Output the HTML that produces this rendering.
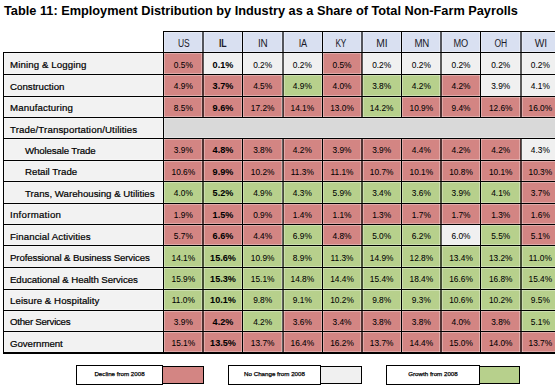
<!DOCTYPE html>
<html><head><meta charset="utf-8"><style>
html,body{margin:0;padding:0;background:#fff;width:560px;height:389px;overflow:hidden}
body{position:relative;font-family:"Liberation Sans",sans-serif;color:#111}
body>div{position:absolute}
.title{left:4px;top:3px;font-weight:bold;font-size:12.75px;white-space:nowrap;color:#000;line-height:15px}
.hd,.nm,.lb,.lg{white-space:nowrap;line-height:12px;height:12px}
.hd{text-align:center;font-size:10.0px;letter-spacing:-0.2px;color:#1a1a2a}
.hd.b{font-weight:bold}
.nm{text-align:center;font-size:8.34px;color:#000;-webkit-text-stroke:0.05px #000}
.nm.b{font-weight:bold;font-size:9.1px;-webkit-text-stroke:0.05px #111}
.lb{font-size:9.7px;padding-left:7px;box-sizing:border-box;color:#000;-webkit-text-stroke:0.2px #000}
.lb.ind{padding-left:22px}
.lg{text-align:center;font-size:6.2px;color:#000;-webkit-text-stroke:0.25px #000}
</style></head><body>
<div class="title">Table 11: Employment Distribution by Industry as a Share of Total Non-Farm Payrolls</div>
<div style="left:163.50px;top:31.00px;width:391.50px;height:21.00px;background:#d9e0f1"></div>
<div class="hd" style="left:164.00px;top:38.10px;width:39.67px;transform:scaleX(0.849)">US</div>
<div class="hd b" style="left:202.57px;top:38.10px;width:39.67px;transform:scaleX(0.879)">IL</div>
<div class="hd" style="left:243.19px;top:38.10px;width:39.67px;transform:scaleX(0.992)">IN</div>
<div class="hd" style="left:282.51px;top:38.10px;width:39.67px;transform:scaleX(0.920)">IA</div>
<div class="hd" style="left:320.83px;top:38.10px;width:39.67px;transform:scaleX(0.828)">KY</div>
<div class="hd" style="left:362.45px;top:38.10px;width:39.67px;transform:scaleX(1.030)">MI</div>
<div class="hd" style="left:401.62px;top:38.10px;width:39.67px;transform:scaleX(0.969)">MN</div>
<div class="hd" style="left:441.19px;top:38.10px;width:39.67px;transform:scaleX(0.920)">MO</div>
<div class="hd" style="left:480.91px;top:38.10px;width:39.67px;transform:scaleX(0.853)">OH</div>
<div class="hd" style="left:520.88px;top:38.10px;width:39.67px;transform:scaleX(1.020)">WI</div>
<div style="left:3.00px;top:52.00px;width:160.50px;height:22.00px;background:#f2f2f2"></div>
<div class="lb" style="left:3px;top:59.30px;width:160.50px;letter-spacing:0.100px">Mining &amp; Logging</div>
<div style="left:163.50px;top:52.00px;width:39.67px;height:22.00px;background:#d38583"></div>
<div class="nm" style="left:163.50px;top:58.70px;width:39.67px">0.5%</div>
<div style="left:203.17px;top:52.00px;width:39.67px;height:22.00px;background:#f0f0f0"></div>
<div class="nm b" style="left:203.17px;top:58.70px;width:39.67px">0.1%</div>
<div style="left:242.84px;top:52.00px;width:39.67px;height:22.00px;background:#f0f0f0"></div>
<div class="nm" style="left:242.84px;top:58.70px;width:39.67px">0.2%</div>
<div style="left:282.51px;top:52.00px;width:39.67px;height:22.00px;background:#f0f0f0"></div>
<div class="nm" style="left:282.51px;top:58.70px;width:39.67px">0.2%</div>
<div style="left:322.18px;top:52.00px;width:39.67px;height:22.00px;background:#d38583"></div>
<div class="nm" style="left:322.18px;top:58.70px;width:39.67px">0.5%</div>
<div style="left:361.85px;top:52.00px;width:39.67px;height:22.00px;background:#f0f0f0"></div>
<div class="nm" style="left:361.85px;top:58.70px;width:39.67px">0.2%</div>
<div style="left:401.52px;top:52.00px;width:39.67px;height:22.00px;background:#f0f0f0"></div>
<div class="nm" style="left:401.52px;top:58.70px;width:39.67px">0.2%</div>
<div style="left:441.19px;top:52.00px;width:39.67px;height:22.00px;background:#f0f0f0"></div>
<div class="nm" style="left:441.19px;top:58.70px;width:39.67px">0.2%</div>
<div style="left:480.86px;top:52.00px;width:39.67px;height:22.00px;background:#f0f0f0"></div>
<div class="nm" style="left:480.86px;top:58.70px;width:39.67px">0.2%</div>
<div style="left:520.53px;top:52.00px;width:34.47px;height:22.00px;background:#f0f0f0"></div>
<div class="nm" style="left:520.53px;top:58.70px;width:39.67px">0.2%</div>
<div style="left:3.00px;top:74.00px;width:160.50px;height:22.00px;background:#f2f2f2"></div>
<div class="lb" style="left:3px;top:80.73px;width:160.50px;letter-spacing:0.009px">Construction</div>
<div style="left:163.50px;top:74.00px;width:39.67px;height:22.00px;background:#d38583"></div>
<div class="nm" style="left:163.50px;top:80.13px;width:39.67px">4.9%</div>
<div style="left:203.17px;top:74.00px;width:39.67px;height:22.00px;background:#d38583"></div>
<div class="nm b" style="left:203.17px;top:80.13px;width:39.67px">3.7%</div>
<div style="left:242.84px;top:74.00px;width:39.67px;height:22.00px;background:#d38583"></div>
<div class="nm" style="left:242.84px;top:80.13px;width:39.67px">4.5%</div>
<div style="left:282.51px;top:74.00px;width:39.67px;height:22.00px;background:#b7d08c"></div>
<div class="nm" style="left:282.51px;top:80.13px;width:39.67px">4.9%</div>
<div style="left:322.18px;top:74.00px;width:39.67px;height:22.00px;background:#d38583"></div>
<div class="nm" style="left:322.18px;top:80.13px;width:39.67px">4.0%</div>
<div style="left:361.85px;top:74.00px;width:39.67px;height:22.00px;background:#b7d08c"></div>
<div class="nm" style="left:361.85px;top:80.13px;width:39.67px">3.8%</div>
<div style="left:401.52px;top:74.00px;width:39.67px;height:22.00px;background:#b7d08c"></div>
<div class="nm" style="left:401.52px;top:80.13px;width:39.67px">4.2%</div>
<div style="left:441.19px;top:74.00px;width:39.67px;height:22.00px;background:#d38583"></div>
<div class="nm" style="left:441.19px;top:80.13px;width:39.67px">4.2%</div>
<div style="left:480.86px;top:74.00px;width:39.67px;height:22.00px;background:#f0f0f0"></div>
<div class="nm" style="left:480.86px;top:80.13px;width:39.67px">3.9%</div>
<div style="left:520.53px;top:74.00px;width:34.47px;height:22.00px;background:#f0f0f0"></div>
<div class="nm" style="left:520.53px;top:80.13px;width:39.67px">4.1%</div>
<div style="left:3.00px;top:96.00px;width:160.50px;height:21.00px;background:#f2f2f2"></div>
<div class="lb" style="left:3px;top:102.16px;width:160.50px;letter-spacing:0.125px">Manufacturing</div>
<div style="left:163.50px;top:96.00px;width:39.67px;height:21.00px;background:#d38583"></div>
<div class="nm" style="left:163.50px;top:101.56px;width:39.67px">8.5%</div>
<div style="left:203.17px;top:96.00px;width:39.67px;height:21.00px;background:#d38583"></div>
<div class="nm b" style="left:203.17px;top:101.56px;width:39.67px">9.6%</div>
<div style="left:242.84px;top:96.00px;width:39.67px;height:21.00px;background:#d38583"></div>
<div class="nm" style="left:242.84px;top:101.56px;width:39.67px">17.2%</div>
<div style="left:282.51px;top:96.00px;width:39.67px;height:21.00px;background:#d38583"></div>
<div class="nm" style="left:282.51px;top:101.56px;width:39.67px">14.1%</div>
<div style="left:322.18px;top:96.00px;width:39.67px;height:21.00px;background:#d38583"></div>
<div class="nm" style="left:322.18px;top:101.56px;width:39.67px">13.0%</div>
<div style="left:361.85px;top:96.00px;width:39.67px;height:21.00px;background:#b7d08c"></div>
<div class="nm" style="left:361.85px;top:101.56px;width:39.67px">14.2%</div>
<div style="left:401.52px;top:96.00px;width:39.67px;height:21.00px;background:#d38583"></div>
<div class="nm" style="left:401.52px;top:101.56px;width:39.67px">10.9%</div>
<div style="left:441.19px;top:96.00px;width:39.67px;height:21.00px;background:#d38583"></div>
<div class="nm" style="left:441.19px;top:101.56px;width:39.67px">9.4%</div>
<div style="left:480.86px;top:96.00px;width:39.67px;height:21.00px;background:#d38583"></div>
<div class="nm" style="left:480.86px;top:101.56px;width:39.67px">12.6%</div>
<div style="left:520.53px;top:96.00px;width:34.47px;height:21.00px;background:#d38583"></div>
<div class="nm" style="left:520.53px;top:101.56px;width:39.67px">16.0%</div>
<div style="left:3.00px;top:117.00px;width:160.50px;height:21.00px;background:#f2f2f2"></div>
<div class="lb" style="left:3px;top:123.59px;width:160.50px;letter-spacing:0.121px">Trade/Transportation/Utilities</div>
<div style="left:163.50px;top:117.00px;width:391.50px;height:21.00px;background:#d9d9d9"></div>
<div style="left:3.00px;top:138.00px;width:160.50px;height:22.00px;background:#f2f2f2"></div>
<div class="lb ind" style="left:3px;top:145.02px;width:160.50px;letter-spacing:-0.143px">Wholesale Trade</div>
<div style="left:163.50px;top:138.00px;width:39.67px;height:22.00px;background:#d38583"></div>
<div class="nm" style="left:163.50px;top:144.42px;width:39.67px">3.9%</div>
<div style="left:203.17px;top:138.00px;width:39.67px;height:22.00px;background:#d38583"></div>
<div class="nm b" style="left:203.17px;top:144.42px;width:39.67px">4.8%</div>
<div style="left:242.84px;top:138.00px;width:39.67px;height:22.00px;background:#d38583"></div>
<div class="nm" style="left:242.84px;top:144.42px;width:39.67px">3.8%</div>
<div style="left:282.51px;top:138.00px;width:39.67px;height:22.00px;background:#d38583"></div>
<div class="nm" style="left:282.51px;top:144.42px;width:39.67px">4.2%</div>
<div style="left:322.18px;top:138.00px;width:39.67px;height:22.00px;background:#d38583"></div>
<div class="nm" style="left:322.18px;top:144.42px;width:39.67px">3.9%</div>
<div style="left:361.85px;top:138.00px;width:39.67px;height:22.00px;background:#d38583"></div>
<div class="nm" style="left:361.85px;top:144.42px;width:39.67px">3.9%</div>
<div style="left:401.52px;top:138.00px;width:39.67px;height:22.00px;background:#d38583"></div>
<div class="nm" style="left:401.52px;top:144.42px;width:39.67px">4.4%</div>
<div style="left:441.19px;top:138.00px;width:39.67px;height:22.00px;background:#d38583"></div>
<div class="nm" style="left:441.19px;top:144.42px;width:39.67px">4.2%</div>
<div style="left:480.86px;top:138.00px;width:39.67px;height:22.00px;background:#d38583"></div>
<div class="nm" style="left:480.86px;top:144.42px;width:39.67px">4.2%</div>
<div style="left:520.53px;top:138.00px;width:34.47px;height:22.00px;background:#f0f0f0"></div>
<div class="nm" style="left:520.53px;top:144.42px;width:39.67px">4.3%</div>
<div style="left:3.00px;top:160.00px;width:160.50px;height:21.00px;background:#f2f2f2"></div>
<div class="lb ind" style="left:3px;top:166.45px;width:160.50px;letter-spacing:0.000px">Retail Trade</div>
<div style="left:163.50px;top:160.00px;width:39.67px;height:21.00px;background:#d38583"></div>
<div class="nm" style="left:163.50px;top:165.85px;width:39.67px">10.6%</div>
<div style="left:203.17px;top:160.00px;width:39.67px;height:21.00px;background:#d38583"></div>
<div class="nm b" style="left:203.17px;top:165.85px;width:39.67px">9.9%</div>
<div style="left:242.84px;top:160.00px;width:39.67px;height:21.00px;background:#d38583"></div>
<div class="nm" style="left:242.84px;top:165.85px;width:39.67px">10.2%</div>
<div style="left:282.51px;top:160.00px;width:39.67px;height:21.00px;background:#d38583"></div>
<div class="nm" style="left:282.51px;top:165.85px;width:39.67px">11.3%</div>
<div style="left:322.18px;top:160.00px;width:39.67px;height:21.00px;background:#d38583"></div>
<div class="nm" style="left:322.18px;top:165.85px;width:39.67px">11.1%</div>
<div style="left:361.85px;top:160.00px;width:39.67px;height:21.00px;background:#d38583"></div>
<div class="nm" style="left:361.85px;top:165.85px;width:39.67px">10.7%</div>
<div style="left:401.52px;top:160.00px;width:39.67px;height:21.00px;background:#d38583"></div>
<div class="nm" style="left:401.52px;top:165.85px;width:39.67px">10.1%</div>
<div style="left:441.19px;top:160.00px;width:39.67px;height:21.00px;background:#d38583"></div>
<div class="nm" style="left:441.19px;top:165.85px;width:39.67px">10.8%</div>
<div style="left:480.86px;top:160.00px;width:39.67px;height:21.00px;background:#d38583"></div>
<div class="nm" style="left:480.86px;top:165.85px;width:39.67px">10.1%</div>
<div style="left:520.53px;top:160.00px;width:34.47px;height:21.00px;background:#d38583"></div>
<div class="nm" style="left:520.53px;top:165.85px;width:39.67px">10.3%</div>
<div style="left:3.00px;top:181.00px;width:160.50px;height:22.00px;background:#f2f2f2"></div>
<div class="lb ind" style="left:3px;top:187.88px;width:160.50px;letter-spacing:0.000px">Trans, Warehousing &amp; Utilities</div>
<div style="left:163.50px;top:181.00px;width:39.67px;height:22.00px;background:#b7d08c"></div>
<div class="nm" style="left:163.50px;top:187.28px;width:39.67px">4.0%</div>
<div style="left:203.17px;top:181.00px;width:39.67px;height:22.00px;background:#b7d08c"></div>
<div class="nm b" style="left:203.17px;top:187.28px;width:39.67px">5.2%</div>
<div style="left:242.84px;top:181.00px;width:39.67px;height:22.00px;background:#b7d08c"></div>
<div class="nm" style="left:242.84px;top:187.28px;width:39.67px">4.9%</div>
<div style="left:282.51px;top:181.00px;width:39.67px;height:22.00px;background:#b7d08c"></div>
<div class="nm" style="left:282.51px;top:187.28px;width:39.67px">4.3%</div>
<div style="left:322.18px;top:181.00px;width:39.67px;height:22.00px;background:#b7d08c"></div>
<div class="nm" style="left:322.18px;top:187.28px;width:39.67px">5.9%</div>
<div style="left:361.85px;top:181.00px;width:39.67px;height:22.00px;background:#b7d08c"></div>
<div class="nm" style="left:361.85px;top:187.28px;width:39.67px">3.4%</div>
<div style="left:401.52px;top:181.00px;width:39.67px;height:22.00px;background:#b7d08c"></div>
<div class="nm" style="left:401.52px;top:187.28px;width:39.67px">3.6%</div>
<div style="left:441.19px;top:181.00px;width:39.67px;height:22.00px;background:#b7d08c"></div>
<div class="nm" style="left:441.19px;top:187.28px;width:39.67px">3.9%</div>
<div style="left:480.86px;top:181.00px;width:39.67px;height:22.00px;background:#b7d08c"></div>
<div class="nm" style="left:480.86px;top:187.28px;width:39.67px">4.1%</div>
<div style="left:520.53px;top:181.00px;width:34.47px;height:22.00px;background:#d38583"></div>
<div class="nm" style="left:520.53px;top:187.28px;width:39.67px">3.7%</div>
<div style="left:3.00px;top:203.00px;width:160.50px;height:21.00px;background:#f2f2f2"></div>
<div class="lb" style="left:3px;top:209.31px;width:160.50px;letter-spacing:0.250px">Information</div>
<div style="left:163.50px;top:203.00px;width:39.67px;height:21.00px;background:#d38583"></div>
<div class="nm" style="left:163.50px;top:208.71px;width:39.67px">1.9%</div>
<div style="left:203.17px;top:203.00px;width:39.67px;height:21.00px;background:#d38583"></div>
<div class="nm b" style="left:203.17px;top:208.71px;width:39.67px">1.5%</div>
<div style="left:242.84px;top:203.00px;width:39.67px;height:21.00px;background:#d38583"></div>
<div class="nm" style="left:242.84px;top:208.71px;width:39.67px">0.9%</div>
<div style="left:282.51px;top:203.00px;width:39.67px;height:21.00px;background:#d38583"></div>
<div class="nm" style="left:282.51px;top:208.71px;width:39.67px">1.4%</div>
<div style="left:322.18px;top:203.00px;width:39.67px;height:21.00px;background:#d38583"></div>
<div class="nm" style="left:322.18px;top:208.71px;width:39.67px">1.1%</div>
<div style="left:361.85px;top:203.00px;width:39.67px;height:21.00px;background:#d38583"></div>
<div class="nm" style="left:361.85px;top:208.71px;width:39.67px">1.3%</div>
<div style="left:401.52px;top:203.00px;width:39.67px;height:21.00px;background:#d38583"></div>
<div class="nm" style="left:401.52px;top:208.71px;width:39.67px">1.7%</div>
<div style="left:441.19px;top:203.00px;width:39.67px;height:21.00px;background:#d38583"></div>
<div class="nm" style="left:441.19px;top:208.71px;width:39.67px">1.7%</div>
<div style="left:480.86px;top:203.00px;width:39.67px;height:21.00px;background:#d38583"></div>
<div class="nm" style="left:480.86px;top:208.71px;width:39.67px">1.3%</div>
<div style="left:520.53px;top:203.00px;width:34.47px;height:21.00px;background:#d38583"></div>
<div class="nm" style="left:520.53px;top:208.71px;width:39.67px">1.6%</div>
<div style="left:3.00px;top:224.00px;width:160.50px;height:21.00px;background:#f2f2f2"></div>
<div class="lb" style="left:3px;top:230.74px;width:160.50px;letter-spacing:0.079px">Financial Activities</div>
<div style="left:163.50px;top:224.00px;width:39.67px;height:21.00px;background:#d38583"></div>
<div class="nm" style="left:163.50px;top:230.14px;width:39.67px">5.7%</div>
<div style="left:203.17px;top:224.00px;width:39.67px;height:21.00px;background:#d38583"></div>
<div class="nm b" style="left:203.17px;top:230.14px;width:39.67px">6.6%</div>
<div style="left:242.84px;top:224.00px;width:39.67px;height:21.00px;background:#d38583"></div>
<div class="nm" style="left:242.84px;top:230.14px;width:39.67px">4.4%</div>
<div style="left:282.51px;top:224.00px;width:39.67px;height:21.00px;background:#b7d08c"></div>
<div class="nm" style="left:282.51px;top:230.14px;width:39.67px">6.9%</div>
<div style="left:322.18px;top:224.00px;width:39.67px;height:21.00px;background:#d38583"></div>
<div class="nm" style="left:322.18px;top:230.14px;width:39.67px">4.8%</div>
<div style="left:361.85px;top:224.00px;width:39.67px;height:21.00px;background:#b7d08c"></div>
<div class="nm" style="left:361.85px;top:230.14px;width:39.67px">5.0%</div>
<div style="left:401.52px;top:224.00px;width:39.67px;height:21.00px;background:#b7d08c"></div>
<div class="nm" style="left:401.52px;top:230.14px;width:39.67px">6.2%</div>
<div style="left:441.19px;top:224.00px;width:39.67px;height:21.00px;background:#f0f0f0"></div>
<div class="nm" style="left:441.19px;top:230.14px;width:39.67px">6.0%</div>
<div style="left:480.86px;top:224.00px;width:39.67px;height:21.00px;background:#b7d08c"></div>
<div class="nm" style="left:480.86px;top:230.14px;width:39.67px">5.5%</div>
<div style="left:520.53px;top:224.00px;width:34.47px;height:21.00px;background:#d38583"></div>
<div class="nm" style="left:520.53px;top:230.14px;width:39.67px">5.1%</div>
<div style="left:3.00px;top:245.00px;width:160.50px;height:22.00px;background:#f2f2f2"></div>
<div class="lb" style="left:3px;top:252.17px;width:160.50px;letter-spacing:-0.145px">Professional &amp; Business Services</div>
<div style="left:163.50px;top:245.00px;width:39.67px;height:22.00px;background:#b7d08c"></div>
<div class="nm" style="left:163.50px;top:251.57px;width:39.67px">14.1%</div>
<div style="left:203.17px;top:245.00px;width:39.67px;height:22.00px;background:#b7d08c"></div>
<div class="nm b" style="left:203.17px;top:251.57px;width:39.67px">15.6%</div>
<div style="left:242.84px;top:245.00px;width:39.67px;height:22.00px;background:#b7d08c"></div>
<div class="nm" style="left:242.84px;top:251.57px;width:39.67px">10.9%</div>
<div style="left:282.51px;top:245.00px;width:39.67px;height:22.00px;background:#b7d08c"></div>
<div class="nm" style="left:282.51px;top:251.57px;width:39.67px">8.9%</div>
<div style="left:322.18px;top:245.00px;width:39.67px;height:22.00px;background:#b7d08c"></div>
<div class="nm" style="left:322.18px;top:251.57px;width:39.67px">11.3%</div>
<div style="left:361.85px;top:245.00px;width:39.67px;height:22.00px;background:#b7d08c"></div>
<div class="nm" style="left:361.85px;top:251.57px;width:39.67px">14.9%</div>
<div style="left:401.52px;top:245.00px;width:39.67px;height:22.00px;background:#b7d08c"></div>
<div class="nm" style="left:401.52px;top:251.57px;width:39.67px">12.8%</div>
<div style="left:441.19px;top:245.00px;width:39.67px;height:22.00px;background:#b7d08c"></div>
<div class="nm" style="left:441.19px;top:251.57px;width:39.67px">13.4%</div>
<div style="left:480.86px;top:245.00px;width:39.67px;height:22.00px;background:#b7d08c"></div>
<div class="nm" style="left:480.86px;top:251.57px;width:39.67px">13.2%</div>
<div style="left:520.53px;top:245.00px;width:34.47px;height:22.00px;background:#b7d08c"></div>
<div class="nm" style="left:520.53px;top:251.57px;width:39.67px">11.0%</div>
<div style="left:3.00px;top:267.00px;width:160.50px;height:22.00px;background:#f2f2f2"></div>
<div class="lb" style="left:3px;top:273.60px;width:160.50px;letter-spacing:-0.089px">Educational &amp; Health Services</div>
<div style="left:163.50px;top:267.00px;width:39.67px;height:22.00px;background:#b7d08c"></div>
<div class="nm" style="left:163.50px;top:273.00px;width:39.67px">15.9%</div>
<div style="left:203.17px;top:267.00px;width:39.67px;height:22.00px;background:#b7d08c"></div>
<div class="nm b" style="left:203.17px;top:273.00px;width:39.67px">15.3%</div>
<div style="left:242.84px;top:267.00px;width:39.67px;height:22.00px;background:#b7d08c"></div>
<div class="nm" style="left:242.84px;top:273.00px;width:39.67px">15.1%</div>
<div style="left:282.51px;top:267.00px;width:39.67px;height:22.00px;background:#b7d08c"></div>
<div class="nm" style="left:282.51px;top:273.00px;width:39.67px">14.8%</div>
<div style="left:322.18px;top:267.00px;width:39.67px;height:22.00px;background:#b7d08c"></div>
<div class="nm" style="left:322.18px;top:273.00px;width:39.67px">14.4%</div>
<div style="left:361.85px;top:267.00px;width:39.67px;height:22.00px;background:#b7d08c"></div>
<div class="nm" style="left:361.85px;top:273.00px;width:39.67px">15.4%</div>
<div style="left:401.52px;top:267.00px;width:39.67px;height:22.00px;background:#b7d08c"></div>
<div class="nm" style="left:401.52px;top:273.00px;width:39.67px">18.4%</div>
<div style="left:441.19px;top:267.00px;width:39.67px;height:22.00px;background:#b7d08c"></div>
<div class="nm" style="left:441.19px;top:273.00px;width:39.67px">16.6%</div>
<div style="left:480.86px;top:267.00px;width:39.67px;height:22.00px;background:#b7d08c"></div>
<div class="nm" style="left:480.86px;top:273.00px;width:39.67px">16.8%</div>
<div style="left:520.53px;top:267.00px;width:34.47px;height:22.00px;background:#b7d08c"></div>
<div class="nm" style="left:520.53px;top:273.00px;width:39.67px">15.4%</div>
<div style="left:3.00px;top:289.00px;width:160.50px;height:21.00px;background:#f2f2f2"></div>
<div class="lb" style="left:3px;top:295.03px;width:160.50px;letter-spacing:0.050px">Leisure &amp; Hospitality</div>
<div style="left:163.50px;top:289.00px;width:39.67px;height:21.00px;background:#b7d08c"></div>
<div class="nm" style="left:163.50px;top:294.43px;width:39.67px">11.0%</div>
<div style="left:203.17px;top:289.00px;width:39.67px;height:21.00px;background:#b7d08c"></div>
<div class="nm b" style="left:203.17px;top:294.43px;width:39.67px">10.1%</div>
<div style="left:242.84px;top:289.00px;width:39.67px;height:21.00px;background:#b7d08c"></div>
<div class="nm" style="left:242.84px;top:294.43px;width:39.67px">9.8%</div>
<div style="left:282.51px;top:289.00px;width:39.67px;height:21.00px;background:#b7d08c"></div>
<div class="nm" style="left:282.51px;top:294.43px;width:39.67px">9.1%</div>
<div style="left:322.18px;top:289.00px;width:39.67px;height:21.00px;background:#b7d08c"></div>
<div class="nm" style="left:322.18px;top:294.43px;width:39.67px">10.2%</div>
<div style="left:361.85px;top:289.00px;width:39.67px;height:21.00px;background:#b7d08c"></div>
<div class="nm" style="left:361.85px;top:294.43px;width:39.67px">9.8%</div>
<div style="left:401.52px;top:289.00px;width:39.67px;height:21.00px;background:#b7d08c"></div>
<div class="nm" style="left:401.52px;top:294.43px;width:39.67px">9.3%</div>
<div style="left:441.19px;top:289.00px;width:39.67px;height:21.00px;background:#b7d08c"></div>
<div class="nm" style="left:441.19px;top:294.43px;width:39.67px">10.6%</div>
<div style="left:480.86px;top:289.00px;width:39.67px;height:21.00px;background:#b7d08c"></div>
<div class="nm" style="left:480.86px;top:294.43px;width:39.67px">10.2%</div>
<div style="left:520.53px;top:289.00px;width:34.47px;height:21.00px;background:#b7d08c"></div>
<div class="nm" style="left:520.53px;top:294.43px;width:39.67px">9.5%</div>
<div style="left:3.00px;top:310.00px;width:160.50px;height:21.00px;background:#f2f2f2"></div>
<div class="lb" style="left:3px;top:316.46px;width:160.50px;letter-spacing:-0.269px">Other Services</div>
<div style="left:163.50px;top:310.00px;width:39.67px;height:21.00px;background:#d38583"></div>
<div class="nm" style="left:163.50px;top:315.86px;width:39.67px">3.9%</div>
<div style="left:203.17px;top:310.00px;width:39.67px;height:21.00px;background:#d38583"></div>
<div class="nm b" style="left:203.17px;top:315.86px;width:39.67px">4.2%</div>
<div style="left:242.84px;top:310.00px;width:39.67px;height:21.00px;background:#b7d08c"></div>
<div class="nm" style="left:242.84px;top:315.86px;width:39.67px">4.2%</div>
<div style="left:282.51px;top:310.00px;width:39.67px;height:21.00px;background:#d38583"></div>
<div class="nm" style="left:282.51px;top:315.86px;width:39.67px">3.6%</div>
<div style="left:322.18px;top:310.00px;width:39.67px;height:21.00px;background:#d38583"></div>
<div class="nm" style="left:322.18px;top:315.86px;width:39.67px">3.4%</div>
<div style="left:361.85px;top:310.00px;width:39.67px;height:21.00px;background:#d38583"></div>
<div class="nm" style="left:361.85px;top:315.86px;width:39.67px">3.8%</div>
<div style="left:401.52px;top:310.00px;width:39.67px;height:21.00px;background:#d38583"></div>
<div class="nm" style="left:401.52px;top:315.86px;width:39.67px">3.8%</div>
<div style="left:441.19px;top:310.00px;width:39.67px;height:21.00px;background:#d38583"></div>
<div class="nm" style="left:441.19px;top:315.86px;width:39.67px">4.0%</div>
<div style="left:480.86px;top:310.00px;width:39.67px;height:21.00px;background:#d38583"></div>
<div class="nm" style="left:480.86px;top:315.86px;width:39.67px">3.8%</div>
<div style="left:520.53px;top:310.00px;width:34.47px;height:21.00px;background:#b7d08c"></div>
<div class="nm" style="left:520.53px;top:315.86px;width:39.67px">5.1%</div>
<div style="left:3.00px;top:331.00px;width:160.50px;height:21.00px;background:#f2f2f2"></div>
<div class="lb" style="left:3px;top:337.89px;width:160.50px;letter-spacing:-0.056px">Government</div>
<div style="left:163.50px;top:331.00px;width:39.67px;height:21.00px;background:#d38583"></div>
<div class="nm" style="left:163.50px;top:337.29px;width:39.67px">15.1%</div>
<div style="left:203.17px;top:331.00px;width:39.67px;height:21.00px;background:#d38583"></div>
<div class="nm b" style="left:203.17px;top:337.29px;width:39.67px">13.5%</div>
<div style="left:242.84px;top:331.00px;width:39.67px;height:21.00px;background:#d38583"></div>
<div class="nm" style="left:242.84px;top:337.29px;width:39.67px">13.7%</div>
<div style="left:282.51px;top:331.00px;width:39.67px;height:21.00px;background:#d38583"></div>
<div class="nm" style="left:282.51px;top:337.29px;width:39.67px">16.4%</div>
<div style="left:322.18px;top:331.00px;width:39.67px;height:21.00px;background:#d38583"></div>
<div class="nm" style="left:322.18px;top:337.29px;width:39.67px">16.2%</div>
<div style="left:361.85px;top:331.00px;width:39.67px;height:21.00px;background:#d38583"></div>
<div class="nm" style="left:361.85px;top:337.29px;width:39.67px">13.7%</div>
<div style="left:401.52px;top:331.00px;width:39.67px;height:21.00px;background:#d38583"></div>
<div class="nm" style="left:401.52px;top:337.29px;width:39.67px">14.4%</div>
<div style="left:441.19px;top:331.00px;width:39.67px;height:21.00px;background:#d38583"></div>
<div class="nm" style="left:441.19px;top:337.29px;width:39.67px">15.0%</div>
<div style="left:480.86px;top:331.00px;width:39.67px;height:21.00px;background:#d38583"></div>
<div class="nm" style="left:480.86px;top:337.29px;width:39.67px">14.0%</div>
<div style="left:520.53px;top:331.00px;width:34.47px;height:21.00px;background:#d38583"></div>
<div class="nm" style="left:520.53px;top:337.29px;width:39.67px">13.7%</div>
<div style="left:163px;top:32px;width:392px;height:1px;background:rgba(255,255,255,0.3)"></div>
<div style="left:3px;top:51px;width:552px;height:1px;background:rgba(255,255,255,0.3)"></div>
<div style="left:3px;top:53px;width:552px;height:1px;background:rgba(255,255,255,0.3)"></div>
<div style="left:3px;top:73px;width:552px;height:1px;background:rgba(255,255,255,0.3)"></div>
<div style="left:3px;top:75px;width:552px;height:1px;background:rgba(255,255,255,0.3)"></div>
<div style="left:3px;top:95px;width:552px;height:1px;background:rgba(255,255,255,0.3)"></div>
<div style="left:3px;top:97px;width:552px;height:1px;background:rgba(255,255,255,0.3)"></div>
<div style="left:3px;top:116px;width:552px;height:1px;background:rgba(255,255,255,0.3)"></div>
<div style="left:3px;top:118px;width:552px;height:1px;background:rgba(255,255,255,0.3)"></div>
<div style="left:3px;top:137px;width:552px;height:1px;background:rgba(255,255,255,0.3)"></div>
<div style="left:3px;top:139px;width:552px;height:1px;background:rgba(255,255,255,0.3)"></div>
<div style="left:3px;top:159px;width:552px;height:1px;background:rgba(255,255,255,0.3)"></div>
<div style="left:3px;top:161px;width:552px;height:1px;background:rgba(255,255,255,0.3)"></div>
<div style="left:3px;top:180px;width:552px;height:1px;background:rgba(255,255,255,0.3)"></div>
<div style="left:3px;top:182px;width:552px;height:1px;background:rgba(255,255,255,0.3)"></div>
<div style="left:3px;top:202px;width:552px;height:1px;background:rgba(255,255,255,0.3)"></div>
<div style="left:3px;top:204px;width:552px;height:1px;background:rgba(255,255,255,0.3)"></div>
<div style="left:3px;top:223px;width:552px;height:1px;background:rgba(255,255,255,0.3)"></div>
<div style="left:3px;top:225px;width:552px;height:1px;background:rgba(255,255,255,0.3)"></div>
<div style="left:3px;top:244px;width:552px;height:1px;background:rgba(255,255,255,0.3)"></div>
<div style="left:3px;top:246px;width:552px;height:1px;background:rgba(255,255,255,0.3)"></div>
<div style="left:3px;top:266px;width:552px;height:1px;background:rgba(255,255,255,0.3)"></div>
<div style="left:3px;top:268px;width:552px;height:1px;background:rgba(255,255,255,0.3)"></div>
<div style="left:3px;top:288px;width:552px;height:1px;background:rgba(255,255,255,0.3)"></div>
<div style="left:3px;top:290px;width:552px;height:1px;background:rgba(255,255,255,0.3)"></div>
<div style="left:3px;top:309px;width:552px;height:1px;background:rgba(255,255,255,0.3)"></div>
<div style="left:3px;top:311px;width:552px;height:1px;background:rgba(255,255,255,0.3)"></div>
<div style="left:3px;top:330px;width:552px;height:1px;background:rgba(255,255,255,0.3)"></div>
<div style="left:3px;top:332px;width:552px;height:1px;background:rgba(255,255,255,0.3)"></div>
<div style="left:3px;top:351px;width:552px;height:1px;background:rgba(255,255,255,0.3)"></div>
<div style="left:4px;top:52px;width:1px;height:300px;background:rgba(255,255,255,0.3)"></div>
<div style="left:162px;top:31px;width:1px;height:321px;background:rgba(255,255,255,0.3)"></div>
<div style="left:164px;top:31px;width:1px;height:321px;background:rgba(255,255,255,0.3)"></div>
<div style="left:201px;top:31px;width:1px;height:86px;background:rgba(255,255,255,0.3)"></div>
<div style="left:201px;top:138px;width:1px;height:214px;background:rgba(255,255,255,0.3)"></div>
<div style="left:204px;top:31px;width:1px;height:86px;background:rgba(255,255,255,0.3)"></div>
<div style="left:204px;top:138px;width:1px;height:214px;background:rgba(255,255,255,0.3)"></div>
<div style="left:241px;top:31px;width:1px;height:86px;background:rgba(255,255,255,0.3)"></div>
<div style="left:241px;top:138px;width:1px;height:214px;background:rgba(255,255,255,0.3)"></div>
<div style="left:243px;top:31px;width:1px;height:86px;background:rgba(255,255,255,0.3)"></div>
<div style="left:243px;top:138px;width:1px;height:214px;background:rgba(255,255,255,0.3)"></div>
<div style="left:281px;top:31px;width:1px;height:86px;background:rgba(255,255,255,0.3)"></div>
<div style="left:281px;top:138px;width:1px;height:214px;background:rgba(255,255,255,0.3)"></div>
<div style="left:284px;top:31px;width:1px;height:86px;background:rgba(255,255,255,0.3)"></div>
<div style="left:284px;top:138px;width:1px;height:214px;background:rgba(255,255,255,0.3)"></div>
<div style="left:321px;top:31px;width:1px;height:86px;background:rgba(255,255,255,0.3)"></div>
<div style="left:321px;top:138px;width:1px;height:214px;background:rgba(255,255,255,0.3)"></div>
<div style="left:323px;top:31px;width:1px;height:86px;background:rgba(255,255,255,0.3)"></div>
<div style="left:323px;top:138px;width:1px;height:214px;background:rgba(255,255,255,0.3)"></div>
<div style="left:360px;top:31px;width:1px;height:86px;background:rgba(255,255,255,0.3)"></div>
<div style="left:360px;top:138px;width:1px;height:214px;background:rgba(255,255,255,0.3)"></div>
<div style="left:363px;top:31px;width:1px;height:86px;background:rgba(255,255,255,0.3)"></div>
<div style="left:363px;top:138px;width:1px;height:214px;background:rgba(255,255,255,0.3)"></div>
<div style="left:400px;top:31px;width:1px;height:86px;background:rgba(255,255,255,0.3)"></div>
<div style="left:400px;top:138px;width:1px;height:214px;background:rgba(255,255,255,0.3)"></div>
<div style="left:402px;top:31px;width:1px;height:86px;background:rgba(255,255,255,0.3)"></div>
<div style="left:402px;top:138px;width:1px;height:214px;background:rgba(255,255,255,0.3)"></div>
<div style="left:439px;top:31px;width:1px;height:86px;background:rgba(255,255,255,0.3)"></div>
<div style="left:439px;top:138px;width:1px;height:214px;background:rgba(255,255,255,0.3)"></div>
<div style="left:442px;top:31px;width:1px;height:86px;background:rgba(255,255,255,0.3)"></div>
<div style="left:442px;top:138px;width:1px;height:214px;background:rgba(255,255,255,0.3)"></div>
<div style="left:479px;top:31px;width:1px;height:86px;background:rgba(255,255,255,0.3)"></div>
<div style="left:479px;top:138px;width:1px;height:214px;background:rgba(255,255,255,0.3)"></div>
<div style="left:481px;top:31px;width:1px;height:86px;background:rgba(255,255,255,0.3)"></div>
<div style="left:481px;top:138px;width:1px;height:214px;background:rgba(255,255,255,0.3)"></div>
<div style="left:519px;top:31px;width:1px;height:86px;background:rgba(255,255,255,0.3)"></div>
<div style="left:519px;top:138px;width:1px;height:214px;background:rgba(255,255,255,0.3)"></div>
<div style="left:522px;top:31px;width:1px;height:86px;background:rgba(255,255,255,0.3)"></div>
<div style="left:522px;top:138px;width:1px;height:214px;background:rgba(255,255,255,0.3)"></div>
<div style="left:163px;top:31px;width:392px;height:1px;background:rgba(0,0,0,1.0)"></div>
<div style="left:3px;top:52px;width:552px;height:1px;background:rgba(0,0,0,1.0)"></div>
<div style="left:3px;top:74px;width:552px;height:1px;background:rgba(0,0,0,1.0)"></div>
<div style="left:3px;top:96px;width:552px;height:1px;background:rgba(0,0,0,1.0)"></div>
<div style="left:3px;top:117px;width:552px;height:1px;background:rgba(0,0,0,1.0)"></div>
<div style="left:3px;top:138px;width:552px;height:1px;background:rgba(0,0,0,1.0)"></div>
<div style="left:3px;top:160px;width:552px;height:1px;background:rgba(0,0,0,1.0)"></div>
<div style="left:3px;top:181px;width:552px;height:1px;background:rgba(0,0,0,1.0)"></div>
<div style="left:3px;top:203px;width:552px;height:1px;background:rgba(0,0,0,1.0)"></div>
<div style="left:3px;top:224px;width:552px;height:1px;background:rgba(0,0,0,1.0)"></div>
<div style="left:3px;top:245px;width:552px;height:1px;background:rgba(0,0,0,1.0)"></div>
<div style="left:3px;top:267px;width:552px;height:1px;background:rgba(0,0,0,1.0)"></div>
<div style="left:3px;top:289px;width:552px;height:1px;background:rgba(0,0,0,1.0)"></div>
<div style="left:3px;top:310px;width:552px;height:1px;background:rgba(0,0,0,1.0)"></div>
<div style="left:3px;top:331px;width:552px;height:1px;background:rgba(0,0,0,1.0)"></div>
<div style="left:3px;top:352px;width:552px;height:2px;background:rgba(0,0,0,1.0)"></div>
<div style="left:3px;top:52px;width:1px;height:302px;background:rgba(0,0,0,1.0)"></div>
<div style="left:163px;top:31px;width:1px;height:323px;background:rgba(0,0,0,1.0)"></div>
<div style="left:202px;top:31px;width:1px;height:87px;background:rgba(0,0,0,0.62)"></div>
<div style="left:202px;top:138px;width:1px;height:216px;background:rgba(0,0,0,0.62)"></div>
<div style="left:203px;top:31px;width:1px;height:87px;background:rgba(0,0,0,0.62)"></div>
<div style="left:203px;top:138px;width:1px;height:216px;background:rgba(0,0,0,0.62)"></div>
<div style="left:242px;top:31px;width:1px;height:87px;background:rgba(0,0,0,1.0)"></div>
<div style="left:242px;top:138px;width:1px;height:216px;background:rgba(0,0,0,1.0)"></div>
<div style="left:282px;top:31px;width:1px;height:87px;background:rgba(0,0,0,0.62)"></div>
<div style="left:282px;top:138px;width:1px;height:216px;background:rgba(0,0,0,0.62)"></div>
<div style="left:283px;top:31px;width:1px;height:87px;background:rgba(0,0,0,0.62)"></div>
<div style="left:283px;top:138px;width:1px;height:216px;background:rgba(0,0,0,0.62)"></div>
<div style="left:322px;top:31px;width:1px;height:87px;background:rgba(0,0,0,1.0)"></div>
<div style="left:322px;top:138px;width:1px;height:216px;background:rgba(0,0,0,1.0)"></div>
<div style="left:361px;top:31px;width:1px;height:87px;background:rgba(0,0,0,0.62)"></div>
<div style="left:361px;top:138px;width:1px;height:216px;background:rgba(0,0,0,0.62)"></div>
<div style="left:362px;top:31px;width:1px;height:87px;background:rgba(0,0,0,0.62)"></div>
<div style="left:362px;top:138px;width:1px;height:216px;background:rgba(0,0,0,0.62)"></div>
<div style="left:401px;top:31px;width:1px;height:87px;background:rgba(0,0,0,1.0)"></div>
<div style="left:401px;top:138px;width:1px;height:216px;background:rgba(0,0,0,1.0)"></div>
<div style="left:440px;top:31px;width:1px;height:87px;background:rgba(0,0,0,0.62)"></div>
<div style="left:440px;top:138px;width:1px;height:216px;background:rgba(0,0,0,0.62)"></div>
<div style="left:441px;top:31px;width:1px;height:87px;background:rgba(0,0,0,0.62)"></div>
<div style="left:441px;top:138px;width:1px;height:216px;background:rgba(0,0,0,0.62)"></div>
<div style="left:480px;top:31px;width:1px;height:87px;background:rgba(0,0,0,1.0)"></div>
<div style="left:480px;top:138px;width:1px;height:216px;background:rgba(0,0,0,1.0)"></div>
<div style="left:520px;top:31px;width:1px;height:87px;background:rgba(0,0,0,0.62)"></div>
<div style="left:520px;top:138px;width:1px;height:216px;background:rgba(0,0,0,0.62)"></div>
<div style="left:521px;top:31px;width:1px;height:87px;background:rgba(0,0,0,0.62)"></div>
<div style="left:521px;top:138px;width:1px;height:216px;background:rgba(0,0,0,0.62)"></div>
<div style="left:76.00px;top:365.00px;width:87.00px;height:20.00px;background:#fff;border:1px solid #000;box-sizing:border-box"></div>
<div class="lg" style="left:76.00px;top:367.50px;width:87.00px">Decline from 2008</div>
<div style="left:163.00px;top:366.00px;width:41.00px;height:18.00px;background:#d38583;border:1px solid #000;border-left:none;box-sizing:border-box"></div>
<div style="left:228.00px;top:365.00px;width:93.00px;height:20.00px;background:#fff;border:1px solid #000;box-sizing:border-box"></div>
<div class="lg" style="left:228.00px;top:367.50px;width:93.00px">No Change from 2008</div>
<div style="left:321.00px;top:366.00px;width:41.00px;height:18.00px;background:#f0f0f0;border:1px solid #000;border-left:none;box-sizing:border-box"></div>
<div style="left:386.00px;top:365.00px;width:94.00px;height:20.00px;background:#fff;border:1px solid #000;box-sizing:border-box"></div>
<div class="lg" style="left:386.00px;top:367.50px;width:94.00px">Growth from 2008</div>
<div style="left:480.00px;top:366.00px;width:40.00px;height:18.00px;background:#b7d08c;border:1px solid #000;border-left:none;box-sizing:border-box"></div>
</body></html>
